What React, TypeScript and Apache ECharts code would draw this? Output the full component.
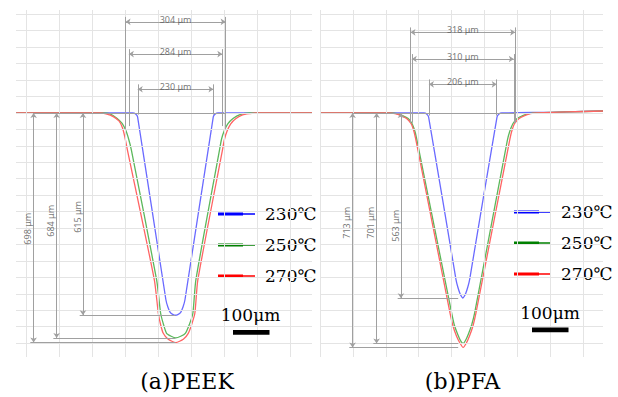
import React, { useEffect, useRef } from "react";
import * as echarts from "echarts";

// ---------- data ----------
const seriesNames = ["230℃", "250℃", "270℃"];
const captions = ["(a)PEEK", "(b)PFA"];
const scaleLabel = "100μm";

// groove profiles: [scan position μm, depth μm]
const peek230 = [[-32, 0], [322, 0], [331, 3], [337, 12], [423, 568], [429, 590], [436, 606], [445, 613], [452, 615], [459, 613], [468, 606], [475, 590], [481, 568], [567, 12], [573, 3], [582, 0], [867, 0]];
const peek250 = [[-32, 0], [232, 0], [253, 3], [274, 16], [290, 32], [302, 55], [310, 80], [318, 112], [395, 508], [407, 609], [416, 644], [425, 670], [439, 679], [453, 684], [468, 679], [482, 670], [494, 644], [505, 609], [514, 508], [586, 112], [592, 80], [600, 55], [611, 33], [627, 17], [648, 5], [676, 0], [867, 0]];
const peek270 = [[-32, 0], [223, 0], [241, 3], [263, 11], [281, 25], [291, 45], [298, 72], [306, 112], [388, 508], [400, 609], [407, 644], [415, 670], [430, 688], [453, 698], [476, 688], [491, 670], [501, 644], [511, 609], [520, 508], [595, 112], [601, 80], [609, 55], [620, 33], [636, 17], [656, 6], [679, 2], [697, 0], [867, 0]];

const pfa230 = [[0, 0], [316, 0], [324, 3], [330, 12], [413, 505], [419, 530], [425, 548], [430, 558], [434, 563], [438, 558], [443, 548], [449, 530], [455, 505], [538, 12], [544, 3], [552, 0], [700, -2], [860, -6]];
const pfa250 = [[0, 0], [216, 0], [234, 2], [251, 8], [268, 17], [280, 33], [289, 58], [295, 85], [400, 608], [408, 644], [418, 672], [427, 692], [435, 701], [442, 692], [451, 672], [461, 644], [470, 608], [569, 85], [576, 58], [586, 33], [599, 17], [616, 8], [635, 2], [654, 0], [750, -3], [860, -6]];
const pfa270 = [[0, 0], [207, 0], [228, 2], [246, 8], [263, 17], [277, 33], [286, 58], [292, 85], [395, 608], [404, 647], [415, 679], [426, 701], [435, 713], [444, 701], [454, 679], [465, 647], [474, 608], [576, 85], [582, 58], [591, 33], [605, 17], [622, 8], [640, 2], [660, 0], [750, -3], [860, -6]];

const peekWidths = [304, 284, 230];
const peekDepths = [698, 684, 615];
const pfaWidths = [318, 310, 206];
const pfaDepths = [713, 701, 563];

const gridXs = [0, 100, 200, 300, 400, 500, 600, 700, 800];
const gridDepths = [-300, -250, -200, -150, -100, -50, 0, 50, 100, 150, 200, 250, 300, 350, 400, 450, 500, 550, 600, 650, 700];

// ---------- styles / layout ----------
const legendColors = ["#0000ff", "#008000", "#ff0000"];
const profileColors = ["#6a6aff", "#5cb85c", "#ff6464"];
const SERIF = '"DejaVu Serif", "Liberation Serif", serif';

const panels = [
  {
    grid: { left: 16, top: 10, width: 296, height: 347 },
    xMin: -32.5, xMax: 867,
    center: 452.5,
    profiles: [peek230, peek250, peek270],
    widths: peekWidths, depths: peekDepths,
    widthLineD: [-277, -179, -72],
    extBottom: [50, 40, 5],
    depthLineX: [21, 91, 171],
    depthLabelD: [352, 328, 316],
    depthEnd: 452,
    surfaceFrom: 21,
    legend: { left: 218, top: 204 },
    scale: { tx: 250.5, ty: 315, bx: 233, by: 330 },
    caption: { x: 187, y: 381 },
  },
  {
    grid: { left: 320, top: 10, width: 283, height: 347 },
    xMin: 0, xMax: 860,
    center: 434,
    profiles: [pfa230, pfa250, pfa270],
    widths: pfaWidths, depths: pfaDepths,
    widthLineD: [-245, -164, -87],
    extBottom: [30, 30, 8],
    depthLineX: [99, 172, 246],
    depthLabelD: [334, 334, 343],
    depthEnd: 420,
    surfaceFrom: 99,
    legend: { left: 514, top: 202 },
    scale: { tx: 550, ty: 313, bx: 532, by: 327.5 },
    caption: { x: 462.5, y: 381 },
  },
];

function buildOption() {
  const series: any[] = [];
  const legends: any[] = [];
  const graphics: any[] = [];
  const xAxes: any[] = [];
  const yAxes: any[] = [];
  const grids: any[] = [];

  panels.forEach((p, pi) => {
    grids.push({ ...p.grid, containLabel: false });
    xAxes.push({ gridIndex: pi, type: "value", min: p.xMin, max: p.xMax, show: false });
    yAxes.push({ gridIndex: pi, type: "value", inverse: true, min: -313, max: 742, show: false });

    // background grid lines
    series.push({
      name: "grid" + pi, type: "line", xAxisIndex: pi, yAxisIndex: pi, data: [], z: 1, silent: true,
      markLine: {
        silent: true, symbol: "none", label: { show: false }, emphasis: { disabled: true },
        lineStyle: { color: "#e4e4e4", width: 1, type: "solid" },
        data: [...gridXs.map((v) => ({ xAxis: v })), ...gridDepths.map((v) => ({ yAxis: v }))],
      },
    });

    // dimension lines
    const dims: any[] = [];
    p.widths.forEach((w, i) => {
      const x1 = p.center - w / 2;
      const x2 = p.center + w / 2;
      const d = p.widthLineD[i];
      dims.push([{ coord: [x1, d], symbol: "arrow" }, { coord: [x2, d], symbol: "arrow" }]);
      dims.push([{ coord: [x1, d - 15], symbol: "none" }, { coord: [x1, p.extBottom[i]], symbol: "none" }]);
      dims.push([{ coord: [x2, d - 15], symbol: "none" }, { coord: [x2, p.extBottom[i]], symbol: "none" }]);
    });
    p.depths.forEach((dep, i) => {
      const x = p.depthLineX[i];
      dims.push([{ coord: [x, 0], symbol: "arrow" }, { coord: [x, dep], symbol: "arrow" }]);
      dims.push([{ coord: [x - 10, dep], symbol: "none" }, { coord: [p.depthEnd, dep], symbol: "none" }]);
    });
    const outer = p.center + p.widths[0] / 2;
    dims.push([{ coord: [p.surfaceFrom, 0], symbol: "none" }, { coord: [outer, 0], symbol: "none" }]);

    series.push({
      name: "dims" + pi, type: "line", xAxisIndex: pi, yAxisIndex: pi, data: [], z: 2, silent: true,
      markLine: {
        silent: true, symbolSize: 5, label: { show: false }, emphasis: { disabled: true },
        lineStyle: { color: "#a0a0a0", width: 1, type: "solid", opacity: 1 },
        itemStyle: { color: "#a0a0a0" },
        data: dims,
      },
    });

    // profiles
    p.profiles.forEach((prof, i) => {
      series.push({
        name: seriesNames[i], type: "line", xAxisIndex: pi, yAxisIndex: pi, z: 3,
        data: prof, showSymbol: false, symbol: "none", smooth: 0.2,
        lineStyle: { color: profileColors[i], width: 1.3 },
        itemStyle: { color: profileColors[i] },
        silent: true,
      });
    });

    // dimension texts
    const texts: any[] = [];
    p.widths.forEach((w, i) => {
      texts.push({
        name: `${w} μm`, value: [p.center, p.widthLineD[i]],
        label: { position: "top", distance: 2 },
      });
    });
    p.depths.forEach((dep, i) => {
      texts.push({
        name: `${dep} μm`, value: [p.depthLineX[i] - 18, p.depthLabelD[i]],
        label: { position: "inside", rotate: 90 },
      });
    });
    series.push({
      name: "texts" + pi, type: "scatter", xAxisIndex: pi, yAxisIndex: pi, z: 5, silent: true,
      symbolSize: 1, itemStyle: { color: "rgba(0,0,0,0)" },
      label: {
        show: true, formatter: "{b}", color: "#555", fontSize: 9,
        fontFamily: '"Noto Sans", "DejaVu Sans", sans-serif',
        align: "center", verticalAlign: "middle",
      },
      data: texts,
    });

    legends.push({
      orient: "vertical", left: p.legend.left, top: p.legend.top, padding: 0,
      itemWidth: 37, itemHeight: 3, itemGap: 11, selectedMode: false,
      icon: "path://M0 0H25V3H0Z M25 0.8H37V2.2H25Z",
      data: seriesNames.map((n, i) => ({ name: n, itemStyle: { color: legendColors[i], borderWidth: 0 } })),
      textStyle: { fontFamily: SERIF, fontSize: 17, color: "#000", lineHeight: 20, padding: [0, 0, 0, 5] },
    });

    graphics.push(
      {
        type: "text", x: p.scale.tx, y: p.scale.ty, z: 100,
        style: { text: scaleLabel, fontFamily: SERIF, fontSize: 17, fill: "#000", align: "center", verticalAlign: "middle" },
      },
      { type: "rect", z: 100, shape: { x: p.scale.bx, y: p.scale.by, width: 36.5, height: 4.8 }, style: { fill: "#000" } },
      {
        type: "text", x: p.caption.x, y: p.caption.y, z: 100,
        style: { text: captions[pi], fontFamily: SERIF, fontSize: 22, fill: "#000", align: "center", verticalAlign: "middle" },
      }
    );
  });

  return {
    animation: false,
    backgroundColor: "#ffffff",
    grid: grids,
    xAxis: xAxes,
    yAxis: yAxes,
    legend: legends,
    series,
    graphic: graphics,
  };
}

export default function App() {
  const ref = useRef<HTMLDivElement>(null);
  useEffect(() => {
    if (!ref.current) return;
    const chart = echarts.init(ref.current, undefined, { renderer: "svg" });
    chart.setOption(buildOption() as any);
    return () => chart.dispose();
  }, []);
  return (
    <div
      ref={ref}
      style={{ position: "absolute", left: 0, top: 0, width: 618, height: 397, background: "#fff" }}
    />
  );
}
